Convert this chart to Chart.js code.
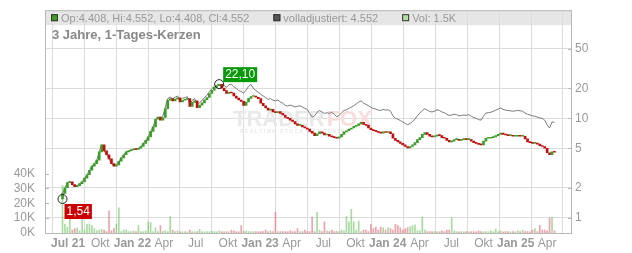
<!DOCTYPE html>
<html>
<head>
<meta charset="utf-8">
<script src="https://cdn.jsdelivr.net/npm/chart.js@4/dist/chart.umd.min.js"></script>
<style>
  html, body { margin: 0; padding: 0; background: #fff; }
</style>
</head>
<body>
<canvas id="chart" width="632" height="253"></canvas>
<script>
// x axis: days counted from 1 Jul 2021
const TICK_DAYS = [0, 92, 184, 274, 365, 457, 549, 639, 730, 822, 914, 1005, 1096, 1188, 1280, 1370]
const TICK_LABELS = ['Jul 21', 'Okt', 'Jan 22', 'Apr', 'Jul', 'Okt', 'Jan 23', 'Apr', 'Jul', 'Okt', 'Jan 24', 'Apr', 'Jul', 'Okt', 'Jan 25', 'Apr']
const PRICE_TICKS = [1, 2, 5, 10, 20, 50]
const VOL_TICKS = [0, 10000, 20000, 30000, 40000]

// one candle per week, first one mid June 2021
const FIRST_DAY = -16
const CANDLE_DAYS = 7
const FIRST_OPEN = 1.54

const CLOSE = [
  1.75, 2.0, 2.25, 2.3, 2.15, 2.05, 2.1, 2.2, 2.3, 2.5,
  2.7, 3.0, 3.3, 3.5, 3.8, 4.6, 5.4, 4.7, 4.3, 3.9,
  3.5, 3.3, 3.4, 3.7, 4.0, 4.3, 4.6, 4.7, 4.8, 4.9,
  4.85, 5.0, 5.2, 5.6, 6.0, 6.5, 7.4, 8.2, 9.8, 10.3,
  9.6, 10.2, 12.5, 15.2, 15.8, 15.0, 15.6, 16.1, 14.6, 15.2,
  15.5, 15.8, 13.2, 14.5, 15.0, 12.8, 13.6, 14.3, 15.4, 16.2,
  17.8, 19.2, 20.5, 21.3, 22.0, 20.2, 19.0, 17.8, 18.3, 18.0,
  16.8, 16.0, 15.3, 14.8, 13.5, 14.6, 15.9, 16.6, 16.8, 16.3,
  15.8, 14.2, 13.4, 12.7, 12.1, 12.3, 11.6, 11.4, 11.7, 11.2,
  10.8, 10.2, 10.0, 9.6, 9.3, 8.8, 8.5, 8.5, 8.2, 8.0,
  7.8, 7.4, 7.1, 6.7, 7.0, 7.3, 7.1, 6.8, 6.9, 6.6,
  6.5, 6.4, 6.3, 6.5, 6.9, 7.3, 7.5, 7.8, 8.0, 8.3,
  8.5, 8.8, 9.1, 8.7, 8.5, 8.0, 7.7, 7.5, 7.4, 7.2,
  7.1, 7.3, 7.2, 7.3, 7.0, 6.3, 6.0, 5.8, 5.6, 5.4,
  5.2, 5.05, 5.2, 5.4, 5.7, 6.1, 6.4, 6.9, 7.2, 6.9,
  6.6, 6.5, 6.6, 6.8, 6.7, 6.4, 6.3, 6.0, 5.8, 5.9,
  6.1, 6.1, 6.0, 6.1, 6.2, 6.1, 6.1, 5.9, 5.7, 5.6,
  5.45, 5.4, 5.9, 6.3, 6.3, 6.4, 6.5, 6.7, 6.9, 7.1,
  6.9, 6.8, 6.7, 6.7, 6.6, 6.6, 6.7, 6.6, 6.6, 6.2,
  5.8, 5.7, 5.6, 5.6, 5.5, 5.3, 5.2, 5.0, 4.5, 4.3,
  4.6, 4.55,
]

// "volladjustiert" line
const ADJUSTED = [
  1.75, 2.0, 2.25, 2.3, 2.15, 2.05, 2.1, 2.2, 2.3, 2.5,
  2.7, 3.0, 3.3, 3.5, 3.8, 4.6, 5.4, 4.7, 4.3, 3.9,
  3.5, 3.3, 3.4, 3.7, 4.0, 4.3, 4.6, 4.7, 4.8, 4.9,
  4.85, 5.0, 5.2, 5.6, 6.0, 6.5, 7.4, 8.2, 9.8, 10.3,
  9.9, 10.6, 13.0, 15.8, 16.4, 15.7, 16.3, 16.8, 15.3, 15.9,
  16.2, 16.5, 14.0, 15.2, 15.8, 13.6, 14.4, 15.1, 16.2, 17.0,
  18.6, 19.9, 21.0, 21.6, 22.0, 21.0, 21.5, 20.5, 21.8, 22.0,
  20.8, 20.0, 19.0, 18.6, 18.0, 19.2, 21.0, 22.0, 20.0, 19.0,
  18.3, 17.5, 16.8, 16.2, 15.5, 15.8, 15.2, 15.0, 15.3, 14.6,
  14.2, 13.5, 13.3, 13.6, 13.4, 13.0, 13.2, 13.4, 13.0, 12.6,
  12.3, 11.2, 10.3, 10.6, 11.5, 12.0, 11.6, 11.2, 11.4, 11.2,
  11.5, 11.0, 10.4, 10.7, 11.4, 12.0, 12.2, 12.6, 13.0, 13.4,
  14.0, 14.6, 15.0, 14.3, 13.8, 13.4, 12.9, 12.6, 12.4, 12.1,
  12.0, 12.3, 12.1, 12.2, 11.8, 10.6, 10.0, 9.8, 9.5, 9.2,
  8.9, 8.6, 8.9, 9.3, 9.8, 10.6, 11.3, 12.0, 12.5, 12.1,
  11.7, 11.6, 11.8, 12.2, 12.0, 11.6, 11.4, 11.0, 10.7, 10.8,
  11.0, 10.9, 10.6, 10.7, 10.8, 10.7, 10.9, 10.5, 10.2, 10.0,
  9.7, 9.6, 10.5, 11.3, 11.4, 11.5, 11.8, 12.1, 12.4, 12.7,
  12.3, 12.1, 12.0, 11.9, 11.8, 11.9, 12.0, 11.9, 11.8, 11.3,
  11.0, 10.8, 10.6, 10.5, 10.3, 10.1, 10.0, 9.6, 8.6, 8.0,
  9.2, 9.1,
]

// volume in thousands
const VOLUME_K = [
  32, 6, 4, 10, 2, 3, 3.5, 1.5, 10, 2,
  6, 6, 5, 3, 1.5, 2, 2.5, 2, 1, 15,
  1.5, 3, 6, 17, 1, 2, 2, 1, 1, 1.5,
  1, 5, 1, 1, 1.5, 7.5, 7, 1, 3.5, 1,
  5, 1, 1.5, 1, 11, 2, 1, 1.5, 1, 0.8,
  1, 0.8, 2, 1, 0.8, 1, 2.5, 1, 0.8, 1,
  0.8, 1.2, 1, 0.8, 1.5, 1, 0.8, 1, 0.8, 2,
  1.5, 1, 0.8, 5, 1, 1.5, 1, 0.8, 1, 1,
  0.8, 1, 1, 2, 1, 1.5, 1, 14, 1, 1,
  1, 1, 0.8, 1.5, 1, 1, 3, 1, 1, 2,
  1, 1, 10.7, 1, 14, 2, 1, 7.5, 1.5, 1,
  2, 1, 1, 1, 2, 1.5, 11, 7.5, 16, 7.5,
  2, 8, 1, 2, 2, 1, 5.8, 3, 4, 2,
  4, 3.5, 2, 3.5, 3, 2, 5.8, 5, 3.5, 2,
  3, 3.5, 4.2, 5, 5.5, 1.5, 1.5, 10.7, 2, 1,
  1, 1, 1, 1, 0.8, 1.5, 1, 2, 2, 10.4,
  1.5, 1, 0.8, 1, 0.8, 1, 0.8, 1, 1, 0.8,
  1.5, 1, 0.8, 1, 0.8, 1.5, 1, 2.7, 1, 1.5,
  0.8, 1, 1, 0.8, 1, 0.8, 1.5, 1, 2, 1,
  1, 0.8, 2, 3, 1, 5.3, 2, 2, 1.5, 10,
  10.5, 1.5,
]

const LOW_MARK = { index: 0, value: 1.54, text: '1,54', color: '#cc0000' }
const HIGH_MARK = { index: 64, value: 22.10, text: '22,10', color: '#089a08' }

const HEADER = [
  { box: '#3c9c2a', text: 'Op:4.408, Hi:4.552, Lo:4.408, Cl:4.552' },
  { box: '#555555', text: 'volladjustiert: 4.552' },
  { box: '#b4dfa6', text: 'Vol: 1.5K' },
]
const TITLE = '3 Jahre, 1-Tages-Kerzen'

const FONT = "'Liberation Sans', Arial, sans-serif"
const GREEN = '#3a9e26'
const RED = '#c40d0d'
const GRID = '#dcdcdc'

const days = CLOSE.map((_, i) => FIRST_DAY + i * CANDLE_DAYS)
const opens = CLOSE.map((c, i) => i ? CLOSE[i - 1] : FIRST_OPEN)
const up = i => CLOSE[i] >= opens[i]

Chart.defaults.font.family = FONT
Chart.defaults.color = '#999'

const chrome = {
  id: 'chrome',
  beforeDraw(chart) {
    const { ctx, chartArea: a } = chart
    ctx.save()
    ctx.fillStyle = '#fff'
    ctx.fillRect(0, 0, chart.width, chart.height)
    ctx.fillStyle = '#e6e6e6'
    ctx.fillRect(a.left, a.top, a.right - a.left, 15)
    ctx.restore()
  },
  beforeDatasetsDraw(chart) {
    // faint watermark
    const { ctx } = chart
    ctx.save()
    ctx.font = `bold 22px ${FONT}`
    ctx.textBaseline = 'alphabetic'
    ctx.fillStyle = '#e9e9e9'
    ctx.fillText('TRADER', 233, 126)
    const w = ctx.measureText('TRADER').width
    ctx.fillStyle = '#f9dcdc'
    ctx.fillText('FOX', 233 + w + 2, 126)
    ctx.font = `bold 5px ${FONT}`
    if ('letterSpacing' in ctx) ctx.letterSpacing = '1.5px'
    ctx.fillStyle = '#e8e8e8'
    ctx.fillText('REALTIME STOCK SCREENING', 240, 133)
    ctx.restore()
  },
  afterDraw(chart) {
    const { ctx, chartArea: a, scales } = chart
    ctx.save()

    // frame and small inner ticks
    ctx.strokeStyle = '#b8b8b8'
    ctx.lineWidth = 1
    ctx.strokeRect(a.left + 0.5, a.top + 0.5, a.right - a.left - 1, a.bottom - a.top)
    ctx.beginPath()
    PRICE_TICKS.forEach(v => {
      const y = Math.round(scales.y.getPixelForValue(v)) + 0.5
      ctx.moveTo(a.right - 4, y); ctx.lineTo(a.right, y)
    })
    VOL_TICKS.forEach(v => {
      const y = Math.round(scales.yv.getPixelForValue(v)) + 0.5
      ctx.moveTo(a.left, y); ctx.lineTo(a.left + 4, y)
    })
    ctx.stroke()

    // low / high markers
    const mark = (m, below) => {
      const x = scales.x.getPixelForValue(days[m.index])
      const y = scales.y.getPixelForValue(m.value)
      ctx.strokeStyle = '#222'
      ctx.beginPath()
      ctx.arc(x, y, 4.5, 0, Math.PI * 2)
      ctx.stroke()
      ctx.font = `12px ${FONT}`
      const tw = ctx.measureText(m.text).width
      const bx = x + (below ? 2 : 4)
      const by = below ? y + 5 : y - 17
      ctx.fillStyle = m.color
      ctx.fillRect(bx, by, tw + 4, 15)
      ctx.fillStyle = '#fff'
      ctx.textBaseline = 'middle'
      ctx.fillText(m.text, bx + 2, by + 8)
    }
    mark(LOW_MARK, true)
    mark(HIGH_MARK, false)

    // header legend line
    ctx.font = `11px ${FONT}`
    ctx.textBaseline = 'alphabetic'
    let x = a.left + 6
    HEADER.forEach(h => {
      ctx.fillStyle = h.box
      ctx.fillRect(x, a.top + 4, 7, 7)
      ctx.strokeStyle = '#333'
      ctx.strokeRect(x + 0.5, a.top + 4.5, 6, 6)
      ctx.fillStyle = '#999'
      ctx.fillText(h.text, x + 10, a.top + 12)
      x += 10 + ctx.measureText(h.text).width + 24
    })

    ctx.font = `bold 13px ${FONT}`
    ctx.fillStyle = '#888'
    ctx.fillText(TITLE, a.left + 7, a.top + 29)
    ctx.restore()
  },
}

new Chart(document.getElementById('chart'), {
  type: 'bar',
  data: {
    datasets: [
      {
        label: 'Kerzen',
        data: days.map((d, i) => ({ x: d, y: [opens[i], CLOSE[i]] })),
        yAxisID: 'y',
        backgroundColor: c => up(c.dataIndex) ? GREEN : RED,
        barThickness: 2,
        minBarLength: 1,
        grouped: false,
        order: 1,
      },
      {
        type: 'line',
        label: 'volladjustiert',
        data: days.map((d, i) => ({ x: d, y: ADJUSTED[i] })),
        yAxisID: 'y',
        borderColor: '#7a7a7a',
        borderWidth: 1,
        pointRadius: 0,
        tension: 0,
        order: 2,
      },
      {
        label: 'Vol',
        data: days.map((d, i) => ({ x: d, y: VOLUME_K[i] * 1000 })),
        yAxisID: 'yv',
        backgroundColor: c => up(c.dataIndex) ? 'rgba(110,195,95,0.6)' : 'rgba(232,110,125,0.65)',
        barThickness: 1,
        grouped: false,
        order: 3,
      },
    ],
  },
  options: {
    responsive: false,
    animation: false,
    layout: { padding: { top: 8 } },
    plugins: { legend: { display: false }, tooltip: { enabled: false } },
    scales: {
      x: {
        type: 'linear',
        min: -19, max: 1394,
        afterBuildTicks: s => { s.ticks = TICK_DAYS.map(v => ({ value: v })) },
        afterFit: s => { s.height = 20 },
        grid: { color: GRID, lineWidth: 1, drawTicks: false },
        border: { display: false },
        ticks: {
          autoSkip: false, maxRotation: 0, padding: 3, color: '#999',
          callback: (v, i) => TICK_LABELS[i],
          font: c => ({ family: FONT, size: 12, weight: /\d/.test(TICK_LABELS[c.index] || '') ? 'bold' : 'normal' }),
        },
      },
      y: {
        type: 'logarithmic',
        position: 'right',
        min: 0.727, max: 122.8,
        afterBuildTicks: s => { s.ticks = PRICE_TICKS.map(v => ({ value: v })) },
        afterFit: s => { s.width = 60 },
        grid: { color: GRID, drawTicks: false },
        border: { display: false },
        ticks: { padding: 3, color: '#999', font: { size: 12 }, callback: v => String(v) },
      },
      yv: {
        type: 'linear',
        position: 'left',
        min: 0, max: 150000,
        afterBuildTicks: s => { s.ticks = VOL_TICKS.map(v => ({ value: v })) },
        afterFit: s => { s.width = 45 },
        grid: { display: false },
        border: { display: false },
        ticks: { padding: 2, color: '#999', font: { size: 12 }, callback: v => (v / 1000) + 'K' },
      },
    },
  },
  plugins: [chrome],
})
</script>
</body>
</html>
